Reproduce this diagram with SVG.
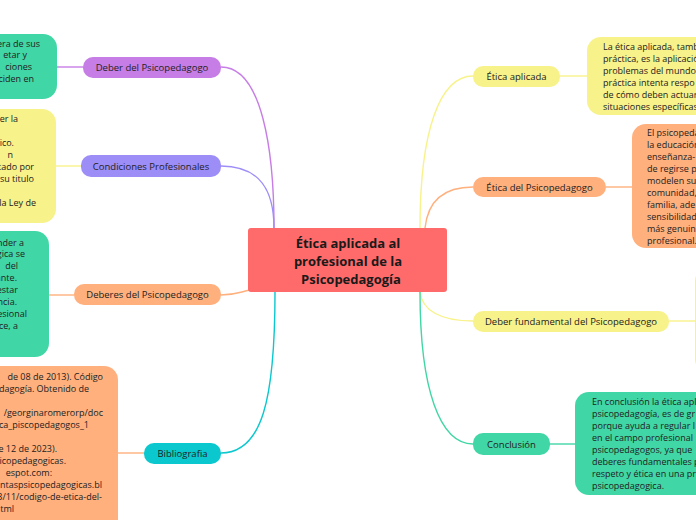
<svg xmlns="http://www.w3.org/2000/svg" width="696" height="520" viewBox="0 0 696 520">
<style>
text{font-family:"Open Sans","Noto Sans","DejaVu Sans",sans-serif;fill:#222;}
.pill{font-size:9.5px;text-anchor:middle;}
.body{font-size:9px;}
.end{text-anchor:end;}
.center{font-size:13px;font-weight:bold;text-anchor:middle;fill:#1a1a1a;}
.c{fill:none;stroke-width:1.4;}
</style>
<rect width="696" height="520" fill="#ffffff"/>
<g id="connectors">
<path class="c" stroke="#c77de6" d="M221,67 C262,67 274,150 274,228"/>
<path class="c" stroke="#9d8df7" d="M221,166 C260,166 274,190 274,228"/>
<path class="c" stroke="#ffb07d" d="M221,295 C235,295 240,292 250,290"/>
<path class="c" stroke="#0bc8cf" d="M221,453 C262,453 275,400 275,292"/>
<path class="c" stroke="#f8f28b" d="M420,228 C420,130 440,76 473,76"/>
<path class="c" stroke="#ffb07d" d="M425,228 C428,200 445,187 473,187"/>
<path class="c" stroke="#f8f28b" d="M420,292 C422,310 440,321 473,321"/>
<path class="c" stroke="#41d6a5" d="M420,292 C420,390 440,444 473,444"/>
<path class="c" stroke="#c77de6" d="M57,67 H83"/>
<path class="c" stroke="#f8f28b" d="M56,166 H81"/>
<path class="c" stroke="#ffb07d" d="M49,295 H74"/>
<path class="c" stroke="#ffb07d" d="M118,453 H144"/>
<path class="c" stroke="#f8f28b" d="M560,76 H587"/>
<path class="c" stroke="#ffb07d" d="M606,187 H632"/>
<path class="c" stroke="#f8f28b" d="M669,321 H696"/>
<path class="c" stroke="#41d6a5" d="M550,444 H575"/>
</g>
<g id="center">
<rect x="248" y="228" width="199" height="64" rx="3" fill="#ff6b6b"/>
<text class="center" x="348" y="248">Ética aplicada al</text>
<text class="center" x="348" y="266">profesional de la</text>
<text class="center" x="351" y="284">Psicopedagogía</text>
</g>
<g id="deber-del">
<rect x="83" y="57" width="138" height="21" rx="10" fill="#c77de6"/>
<text class="pill" x="152" y="71">Deber del Psicopedagogo</text>
</g>
<g id="deber-del-text">
<rect x="-40" y="34" width="97" height="65" rx="14" fill="#41d6a5"/>
<text class="body end" x="40" y="47">era de sus</text>
<text class="body end" x="27" y="58">etar y</text>
<text class="body end" x="32" y="70">ciones</text>
<text class="body end" x="34" y="82">ciden en</text>
</g>
<g id="condiciones">
<rect x="81" y="155" width="140" height="22" rx="10" fill="#9d8df7"/>
<text class="pill" x="151" y="169.5">Condiciones Profesionales</text>
</g>
<g id="condiciones-text">
<rect x="-40" y="109" width="96" height="114" rx="14" fill="#f8f28b"/>
<text class="body end" x="18" y="122">er la</text>
<text class="body end" x="14" y="146">ico.</text>
<text class="body end" x="13" y="158">n</text>
<text class="body end" x="34" y="170">tado por</text>
<text class="body end" x="34" y="182">su titulo</text>
<text class="body end" x="36" y="206">la Ley de</text>
</g>
<g id="deberes">
<rect x="74" y="284" width="147" height="21" rx="10" fill="#ffb07d"/>
<text class="pill" x="147.5" y="298">Deberes del Psicopedagogo</text>
</g>
<g id="deberes-text">
<rect x="-40" y="231" width="89" height="126" rx="14" fill="#41d6a5"/>
<text class="body end" x="24" y="246">nder a</text>
<text class="body end" x="25" y="257">gica se</text>
<text class="body end" x="18" y="269">del</text>
<text class="body end" x="17" y="281">ante.</text>
<text class="body end" x="18" y="293">estar</text>
<text class="body end" x="17" y="305">ncia.</text>
<text class="body end" x="27" y="317">esional</text>
<text class="body end" x="18" y="329">ce, a</text>
</g>
<g id="bibliografia">
<rect x="144" y="443" width="77" height="21" rx="10" fill="#0bc8cf"/>
<text class="pill" x="182.5" y="457">Bibliografia</text>
</g>
<g id="bibliografia-text">
<rect x="-40" y="366" width="158" height="170" rx="14" fill="#ffb07d"/>
<text class="body end" x="103" y="380">de 08 de 2013). Código</text>
<text class="body end" x="89" y="392">dagogía. Obtenido de</text>
<text class="body end" x="103" y="416">/georginaromerorp/doc</text>
<text class="body end" x="89" y="428">ca_piscopedagogos_1</text>
<text class="body end" x="57" y="452">e 12 de 2023).</text>
<text class="body end" x="66" y="464">icopedagogicas.</text>
<text class="body end" x="52" y="476">espot.com:</text>
<text class="body end" x="102" y="488">ntaspsicopedagogicas.bl</text>
<text class="body end" x="102" y="500">3/11/codigo-de-etica-del-</text>
<text class="body end" x="14" y="512">tml</text>
</g>
<g id="etica-aplicada">
<rect x="473" y="66" width="87" height="21" rx="10" fill="#f8f28b"/>
<text class="pill" x="516.5" y="80">Ética aplicada</text>
</g>
<g id="etica-aplicada-text">
<rect x="587" y="37" width="150" height="78" rx="14" fill="#f8f28b"/>
<text class="body" x="603" y="50">La ética aplicada, tamb</text>
<text class="body" x="603" y="62">práctica, es la aplicació</text>
<text class="body" x="603" y="74">problemas del mundo</text>
<text class="body" x="603" y="86">práctica intenta respo</text>
<text class="body" x="603" y="98">de cómo deben actuar</text>
<text class="body" x="603" y="110">situaciones específicas</text>
</g>
<g id="etica-psico">
<rect x="473" y="177" width="133" height="20" rx="10" fill="#ffb07d"/>
<text class="pill" x="539.5" y="190.5">Ética del Psicopedagogo</text>
</g>
<g id="etica-psico-text">
<rect x="632" y="124" width="120" height="124" rx="14" fill="#ffb07d"/>
<text class="body" x="647" y="136">El psicopeda</text>
<text class="body" x="647" y="148">la educación</text>
<text class="body" x="647" y="160">enseñanza-</text>
<text class="body" x="647" y="172">de regirse p</text>
<text class="body" x="647" y="184">modelen su</text>
<text class="body" x="647" y="196">comunidad,</text>
<text class="body" x="647" y="208">familia, ade</text>
<text class="body" x="647" y="220">sensibilidad</text>
<text class="body" x="647" y="232">más genuin</text>
<text class="body" x="647" y="244">profesional.</text>
</g>
<g id="deber-fundamental">
<rect x="473" y="311" width="196" height="21" rx="10" fill="#f8f28b"/>
<text class="pill" x="571" y="325">Deber fundamental del Psicopedagogo</text>
</g>
<g id="deber-fundamental-text">
<rect x="695" y="267" width="60" height="106" rx="14" fill="#f8f28b"/>
</g>
<g id="conclusion">
<rect x="473" y="433" width="77" height="22" rx="10" fill="#41d6a5"/>
<text class="pill" x="511.5" y="447.5">Conclusión</text>
</g>
<g id="conclusion-text">
<rect x="575" y="392" width="170" height="103" rx="14" fill="#41d6a5"/>
<text class="body" x="592" y="405">En conclusión la ética apl</text>
<text class="body" x="592" y="417">psicopedagogía, es de gr</text>
<text class="body" x="592" y="429">porque ayuda a regular l</text>
<text class="body" x="592" y="441">en el campo profesional</text>
<text class="body" x="592" y="453">psicopedagogos, ya que</text>
<text class="body" x="592" y="465">deberes fundamentales p</text>
<text class="body" x="592" y="477">respeto y ética en una pr</text>
<text class="body" x="592" y="489">psicopedagogica.</text>
</g>
</svg>
